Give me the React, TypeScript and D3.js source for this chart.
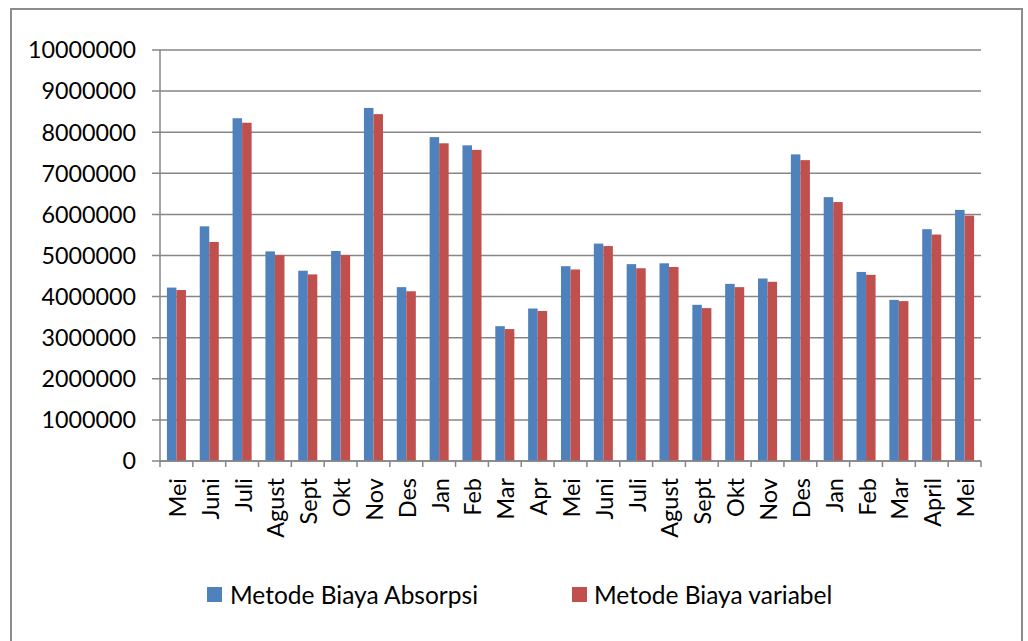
import React from "react";
import * as d3 from "d3";

const categories = ["Mei","Juni","Juli","Agust","Sept","Okt","Nov","Des","Jan","Feb","Mar","Apr","Mei","Juni","Juli","Agust","Sept","Okt","Nov","Des","Jan","Feb","Mar","April","Mei"];
const absorpsi = [4220000,5710000,8340000,5100000,4630000,5110000,8590000,4230000,7880000,7680000,3280000,3710000,4740000,5290000,4790000,4810000,3800000,4310000,4440000,7460000,6420000,4600000,3920000,5640000,6110000];
const variabel = [4160000,5330000,8230000,5010000,4540000,5010000,8440000,4130000,7730000,7570000,3210000,3650000,4660000,5230000,4690000,4720000,3720000,4230000,4360000,7320000,6300000,4530000,3890000,5510000,5970000];
const yTicks = [0,1000000,2000000,3000000,4000000,5000000,6000000,7000000,8000000,9000000,10000000];
const seriesNames = ["Metode Biaya Absorpsi", "Metode Biaya variabel"];
const colors = ["#4F81BD", "#C0504D"];

export default function App() {
  const W = 1028, H = 641;
  const left = 160, right = 981, top = 50, bottom = 461;
  const x = d3.scaleBand<number>().domain(d3.range(categories.length)).range([left, right]).paddingInner(0).paddingOuter(0);
  const y = d3.scaleLinear().domain([0, 10000000]).range([bottom, top]);
  const bw = x.bandwidth();
  const barW = bw * 0.29;
  const font = "Lato, 'Open Sans', sans-serif";
  const grid = "#868686";
  return (
    <svg width={W} height={H} style={{ position: "absolute", left: 0, top: 0, background: "#fff" }} fontFamily={font}>
      <rect x={11} y={9} width={1011} height={H} fill="#fff" stroke="#8c8c8c" strokeWidth={2} />
      {yTicks.map((t) => (
        <g key={t}>
          <line x1={left - 8} x2={right} y1={y(t)} y2={y(t)} stroke={grid} strokeWidth={1.5} />
          <text x={136} y={y(t)} dy="0.36em" textAnchor="end" fontSize={23.3} fill="#000">{t}</text>
        </g>
      ))}
      <line x1={left} x2={left} y1={top} y2={bottom} stroke={grid} strokeWidth={1.5} />
      {categories.map((c, i) => {
        const x0 = x(i)!;
        const cx = x0 + bw / 2;
        return (
          <g key={i}>
            <rect x={cx - barW} y={y(absorpsi[i])} width={barW} height={bottom - y(absorpsi[i])} fill={colors[0]} />
            <rect x={cx} y={y(variabel[i])} width={barW} height={bottom - y(variabel[i])} fill={colors[1]} />
            <text transform={`translate(${cx + 1},${478}) rotate(-90)`} dy="0.36em" textAnchor="end" fontSize={23.5} fill="#000">{c}</text>
          </g>
        );
      })}
      {d3.range(categories.length + 1).map((i) => {
        const xx = left + i * bw;
        return <line key={"t" + i} x1={xx} x2={xx} y1={bottom} y2={bottom + 6} stroke={grid} strokeWidth={1.5} />;
      })}
      <line x1={left} x2={right} y1={bottom} y2={bottom} stroke={grid} strokeWidth={1.5} />
      <rect x={207} y={587} width={15} height={15} fill={colors[0]} />
      <text x={230} y={604} fontSize={24.5} fill="#000">{seriesNames[0]}</text>
      <rect x={572} y={587} width={15} height={15} fill={colors[1]} />
      <text x={594} y={604} fontSize={24.5} fill="#000">{seriesNames[1]}</text>
    </svg>
  );
}
